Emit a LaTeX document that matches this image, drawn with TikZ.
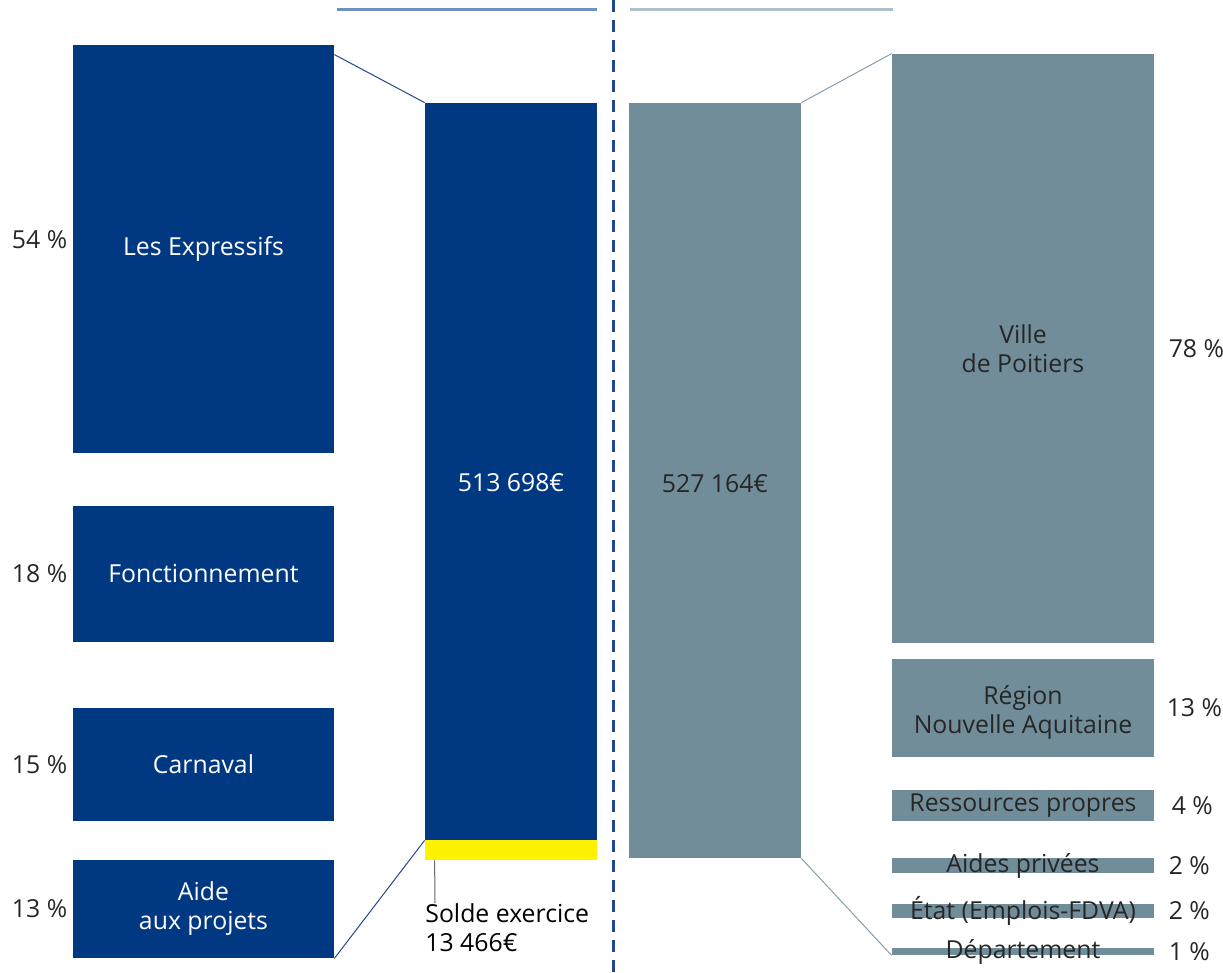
\documentclass[tikz,border=0pt]{standalone}
\usepackage{fontspec}
\setmainfont{Open Sans}
\definecolor{navy}{RGB}{0,56,130}
\definecolor{slate}{RGB}{114,141,154}
\definecolor{soldeyellow}{RGB}{255,242,0}
\definecolor{lightnavy}{RGB}{111,143,192}
\definecolor{lightslate}{RGB}{175,192,200}
\definecolor{dashnavy}{RGB}{31,73,140}
\tikzset{
	depbox/.style={fill=navy, text=white, align=center, inner sep=0pt},
	recbox/.style={fill=slate, text=black!85, align=center, inner sep=0pt},
	pct/.style={text=black!85, inner sep=0pt},
	deplink/.style={draw=dashnavy, line width=0.5pt},
	reclink/.style={draw=slate!85, line width=0.5pt}
}
\begin{document}
\begin{tikzpicture}[x=0.5pt, y=-0.5pt, font=\fontsize{12.4}{14.5}\selectfont]
			\useasboundingbox (0,0) rectangle (1223,973);
			% separators
			\draw[lightnavy, line width=1.5pt] (337,10) -- (597,10);
			\draw[lightslate, line width=1.5pt] (630,10) -- (893,10);
			\draw[dashnavy, line width=1.5pt, dash pattern=on 6pt off 4pt] (613,0) -- (613,973);

			%% Depenses %%
			\node[depbox, minimum width=130.5pt, minimum height=204pt,
				label={[pct, xshift=-2.5pt, yshift=4.5pt]left:54 \%}] (expr) at (203.5,249) {Les Expressifs};
			\node[depbox, minimum width=130.5pt, minimum height=68pt,
				label={[pct, xshift=-2.5pt]left:18 \%}] (fonct) at (203.5,574) {Fonctionnement};
			\node[depbox, minimum width=130.5pt, minimum height=56.5pt,
				label={[pct, xshift=-2.5pt]left:15 \%}] (carn) at (203.5,764.5) {Carnaval};
			\node[depbox, minimum width=130.5pt, minimum height=49pt,
				label={[pct, xshift=-2.5pt]left:13 \%}] (aide) at (203.5,909) {Aide\\aux projets};
			% total
			\node[depbox, minimum width=86pt, minimum height=368.5pt,
				label={[text=white, yshift=-5.5pt]center:513 698€}] (dep) at (511,471.5) {};
			\node[fill=soldeyellow, minimum width=86pt, minimum height=10pt, inner sep=0pt] (solde) at (511,850) {};
			\node[anchor=north west, align=left, inner sep=0pt] (soldetxt) at (425,903) {Solde exercice\\13 466€};
			\draw[black!60, line width=0.5pt] ([xshift=5pt]solde.south west) -- ([xshift=5pt]soldetxt.north west);
			\draw[deplink] ([yshift=-5pt]expr.north east) -- (dep.north west);
			\draw[deplink] (aide.south east) -- (dep.south west);

			%% Recettes %%
			\node[recbox, minimum width=86pt, minimum height=377.5pt,
				label={[text=black!85, yshift=-1.5pt]center:527 164€}] (rec) at (715,480.5) {};
			\node[recbox, minimum width=131pt, minimum height=294.5pt,
				label={[pct, xshift=7pt]right:78 \%}] (ville) at (1023,348.5) {Ville\\de Poitiers};
			\node[recbox, minimum width=131pt, minimum height=49pt,
				label={[pct, xshift=6pt]right:13 \%}] (region) at (1023,708) {};
			\node[recbox, minimum width=131pt, minimum height=15.5pt,
				label={[pct, xshift=8.5pt]right:4 \%}] (ress) at (1023,805.5) {Ressources propres};
			\node[recbox, minimum width=131pt, minimum height=7.5pt,
				label={[pct, xshift=7pt]right:2 \%}] (priv) at (1023,865.5) {};
			\node[recbox, minimum width=131pt, minimum height=7pt,
				label={[pct, xshift=7pt]right:2 \%}] (etat) at (1023,911) {};
			\node[recbox, minimum width=131pt, minimum height=3.5pt,
				label={[pct, xshift=7pt]right:1 \%}] (dept) at (1023,951.5) {};
			% labels
			\node[pct, align=center, yshift=-2pt] at (region.center) {Région\\Nouvelle Aquitaine};
			\node[pct] at (priv.center) {Aides privées};
			\node[pct] at (etat.center) {État (Emplois-FDVA)};
			\node[pct] at (dept.center) {Département};
			\draw[reclink] (rec.north east) -- (ville.north west);
			\draw[reclink] (rec.south east) -- (dept.south west);
		\end{tikzpicture}
\end{document}
